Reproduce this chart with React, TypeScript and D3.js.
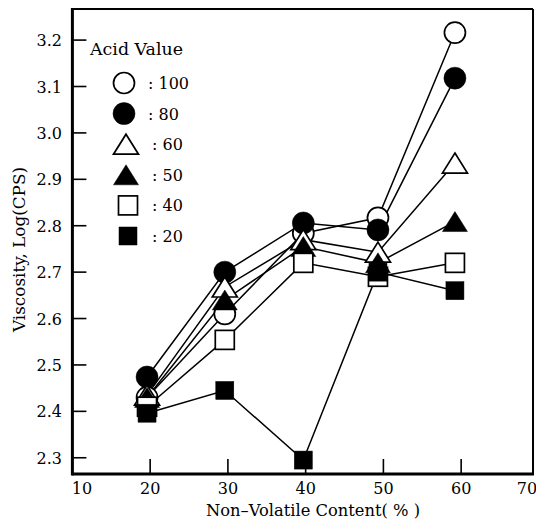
import React from 'react';
import * as d3 from 'd3';

const W = 536;
const H = 529;

const xPositions = [19.6, 29.6, 39.7, 49.3, 59.2];
const seriesNames = ['100', '80', '60', '50', '40', '20'];
const seriesShapes = ['circle', 'circle', 'triangle', 'triangle', 'square', 'square'];
const seriesFilled = [false, true, false, true, false, true];
const acid100 = [2.43, 2.61, 2.784, 2.817, 3.216];
const acid80 = [2.474, 2.70, 2.806, 2.791, 3.118];
const acid60 = [2.435, 2.668, 2.77, 2.743, 2.935];
const acid50 = [2.43, 2.64, 2.755, 2.72, 2.809];
const acid40 = [2.41, 2.554, 2.72, 2.69, 2.72];
const acid20 = [2.396, 2.445, 2.295, 2.70, 2.66];
const seriesValues = [acid100, acid80, acid60, acid50, acid40, acid20];

const xTicks = [10, 20, 30, 40, 50, 60, 70];
const xTickMarks = [20, 30, 40, 50, 60];
const yTicks = [2.3, 2.4, 2.5, 2.6, 2.7, 2.8, 2.9, 3.0, 3.1, 3.2];

const xTitle = 'Non\u2013Volatile Content( % )';
const yTitle = 'Viscosity, Log(CPS)';
const legendTitle = 'Acid Value';

const FONT = "'DejaVu Serif', 'Liberation Serif', serif";

const x = d3.scaleLinear().domain([10, 70]).range([72.4, 538.9]);
const y = d3.scaleLinear().domain([2.265, 3.267]).range([474, 9]);

function Marker({ shape, filled, cx, cy }: { shape: string; filled: boolean; cx: number; cy: number }) {
  const fill = filled ? '#000' : '#fff';
  const sw = 1.7;
  if (shape === 'circle') {
    return <circle cx={cx} cy={cy} r={filled ? 11 : 10.5} fill={fill} stroke="#000" strokeWidth={filled ? 0.5 : sw} />;
  }
  if (shape === 'triangle') {
    const w = 25, h = 20;
    const p = d3.path();
    p.moveTo(cx, cy - h / 2);
    p.lineTo(cx + w / 2, cy + h / 2);
    p.lineTo(cx - w / 2, cy + h / 2);
    p.closePath();
    return <path d={p.toString()} fill={fill} stroke="#000" strokeWidth={filled ? 0.5 : sw} strokeLinejoin="miter" />;
  }
  const s = filled ? 18 : 19;
  return <rect x={cx - s / 2} y={cy - s / 2} width={s} height={s} fill={fill} stroke="#000" strokeWidth={filled ? 0.5 : sw} />;
}

export default function App() {
  const line = d3
    .line<number>()
    .x((_, i) => x(xPositions[i]))
    .y((d) => y(d));

  const left = x(10);
  const right = 533;
  const top = y.range()[1];
  const bottom = y.range()[0];

  const legendX = 124;
  const legendY0 = 83;
  const legendStep = 30.6;

  return (
    <svg width={W} height={H} style={{ position: 'absolute', left: 0, top: 0, background: '#fff' }}>
      <rect x={0} y={0} width={W} height={H} fill="#fff" />
      {/* frame */}
      <line x1={left} y1={top - 1} x2={left} y2={bottom + 1.5} stroke="#000" strokeWidth={3} />
      <line x1={left} y1={bottom} x2={right + 1} y2={bottom} stroke="#000" strokeWidth={3} />
      <line x1={left} y1={top} x2={right} y2={top} stroke="#000" strokeWidth={2} />
      <line x1={right} y1={top} x2={right} y2={bottom} stroke="#000" strokeWidth={2} />

      {/* y ticks */}
      {yTicks.map((t) => (
        <g key={'y' + t}>
          <line x1={left} x2={left + 14} y1={y(t)} y2={y(t)} stroke="#000" strokeWidth={1.6} />
          <text x={62} y={y(t) + 6} textAnchor="end" fontFamily={FONT} fontSize={16} fill="#000">
            {t.toFixed(1)}
          </text>
        </g>
      ))}

      {/* x ticks */}
      {xTickMarks.map((t) => (
        <line key={'xm' + t} x1={x(t)} x2={x(t)} y1={bottom} y2={bottom - 15} stroke="#000" strokeWidth={1.6} />
      ))}
      {xTicks.map((t) => (
        <text
          key={'xl' + t}
          x={Math.min(Math.max(x(t), 82), 527)}
          y={494}
          textAnchor="middle"
          fontFamily={FONT}
          fontSize={16}
          fill="#000"
        >
          {t}
        </text>
      ))}

      {/* axis titles */}
      <text x={206} y={516} fontFamily={FONT} fontSize={17} fill="#000" textLength={214} lengthAdjust="spacingAndGlyphs">
        {xTitle}
      </text>
      <text
        transform={`translate(25, 332) rotate(-90)`}
        x={0}
        y={0}
        fontFamily={FONT}
        fontSize={17}
        fill="#000"
        textLength={165}
        lengthAdjust="spacingAndGlyphs"
      >
        {yTitle}
      </text>

      {/* lines */}
      {seriesValues.map((vals, i) => (
        <path key={'l' + i} d={line(vals) || ''} fill="none" stroke="#000" strokeWidth={1.5} />
      ))}

      {/* markers */}
      {seriesValues.map((vals, i) =>
        vals.map((v, j) => (
          <Marker key={'m' + i + '-' + j} shape={seriesShapes[i]} filled={seriesFilled[i]} cx={x(xPositions[j])} cy={y(v)} />
        ))
      )}

      {/* legend */}
      <text x={90} y={55} fontFamily={FONT} fontSize={16.5} fill="#000" textLength={93} lengthAdjust="spacingAndGlyphs">
        {legendTitle}
      </text>
      {seriesNames.map((name, i) => {
        const cy = legendY0 + i * legendStep;
        return (
          <g key={'lg' + name}>
            <Marker shape={seriesShapes[i]} filled={seriesFilled[i]} cx={legendX + (i >= 2 ? 2 : 0) + (i >= 4 ? 2 : 0)} cy={cy} />
            <text x={148 + (i >= 2 ? 4 : 0)} y={cy + 6} fontFamily={FONT} fontSize={16} fill="#000">
              {': ' + name}
            </text>
          </g>
        );
      })}
    </svg>
  );
}
